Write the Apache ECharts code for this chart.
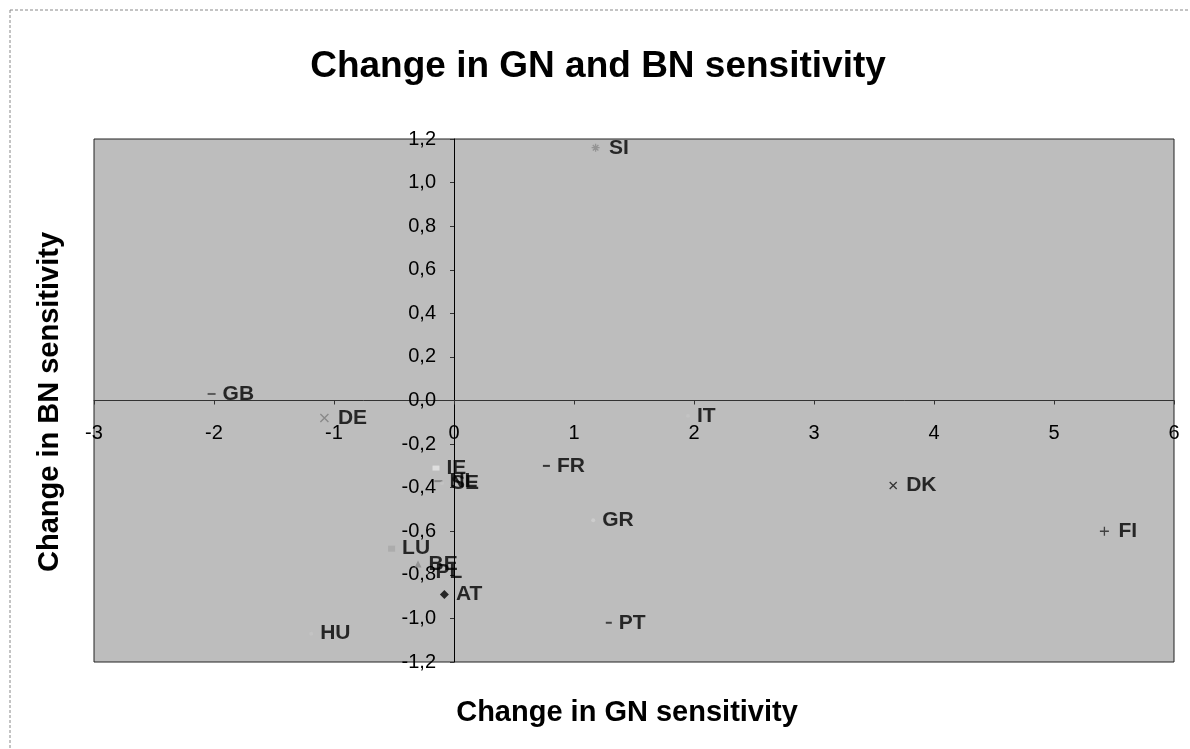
<!DOCTYPE html>
<html>
<head>
<meta charset="utf-8">
<script src="https://cdn.jsdelivr.net/npm/echarts@6/dist/echarts.min.js"></script>
<style>
  html, body { margin: 0; padding: 0; background: #fff; }
  #chart { width: 1190px; height: 749px; }
</style>
</head>
<body>
<div id="chart"></div>
<script>
// country codes and their changes
const countries = ['AT', 'BE', 'DE', 'DK', 'FI', 'FR', 'GB', 'GR', 'HU', 'IE', 'IT', 'LU', 'NL', 'PL', 'PT', 'SE', 'SI'];
const gnChange = [-0.08, -0.30, -1.08, 3.66, 5.42, 0.77, -2.02, 1.16, -1.19, -0.15, 1.95, -0.52, -0.13, -0.23, 1.29, -0.10, 1.18];
const bnChange = [-0.89, -0.75, -0.08, -0.39, -0.60, -0.30, 0.03, -0.55, -1.07, -0.31, -0.07, -0.68, -0.37, -0.79, -1.02, -0.38, 1.16];

const xTicks = { min: -3, max: 6, step: 1 };
const yTicks = { min: -1.2, max: 1.2, step: 0.2 };

// marker look per country (Excel default series markers)
const P_X = 'path://M0,0L10,10M10,0L0,10';
const P_PLUS = 'path://M5,0L5,10M0,5L10,5';
const P_STAR = 'path://M5,0L5,10M0,5L10,5M1.5,1.5L8.5,8.5M8.5,1.5L1.5,8.5';
const markerStyle = {
  AT: { symbol: 'diamond', size: 9, fill: '#000' },
  BE: { symbol: 'triangle', size: 7, fill: '#8a8a8a' },
  DE: { symbol: P_X, size: 8, stroke: '#7a7a7a' },
  DK: { symbol: P_X, size: 7, stroke: '#111' },
  FI: { symbol: P_PLUS, size: 9, stroke: '#222' },
  FR: { symbol: 'rect', size: [7, 2], fill: '#111' },
  GB: { symbol: 'rect', size: [8, 2], fill: '#444' },
  GR: { symbol: 'circle', size: 4, fill: '#cfcfcf' },
  HU: { symbol: 'circle', size: 4, fill: '#c4c4c4' },
  IE: { symbol: 'rect', size: [7, 5], fill: '#e6e6e6' },
  IT: { symbol: 'circle', size: 4, fill: '#c4c4c4' },
  LU: { symbol: 'rect', size: [7, 6], fill: '#a8a8a8' },
  NL: { symbol: 'rect', size: [8, 2], fill: '#777' },
  PL: { symbol: 'circle', size: 4, fill: '#c4c4c4' },
  PT: { symbol: 'rect', size: [6, 2], fill: '#222' },
  SE: { symbol: 'circle', size: 4, fill: '#c4c4c4' },
  SI: { symbol: P_STAR, size: 8, stroke: '#8a8a8a' }
};

const FONT = 'Liberation Sans, Arial, sans-serif';
const fmtComma = v => (Math.round(v * 10) / 10).toFixed(1).replace('.', ',');

// plot area, and where the zero lines sit inside it
const W = 1190, H = 749;
const gridBox = { left: 94, right: 16, top: 139, bottom: 87 };
const plotW = W - gridBox.left - gridBox.right;
const plotH = H - gridBox.top - gridBox.bottom;
const yAxisShift = -plotW * (0 - xTicks.min) / (xTicks.max - xTicks.min);
const xAxisShift = -plotH * (0 - yTicks.min) / (yTicks.max - yTicks.min);

const series = countries.map((c, i) => {
  const m = markerStyle[c];
  return {
    name: c,
    type: 'scatter',
    symbol: m.symbol,
    symbolSize: m.size,
    itemStyle: m.stroke
      ? { color: 'none', borderColor: m.stroke, borderWidth: 1.3 }
      : { color: m.fill },
    label: {
      show: true,
      position: 'right',
      distance: 7,
      formatter: c,
      color: '#000',
      fontSize: 21,
      fontWeight: 'bold',
      fontFamily: FONT
    },
    emphasis: { disabled: true },
    data: [[gnChange[i], bnChange[i]]]
  };
});

const chart = echarts.init(document.getElementById('chart'));
chart.setOption({
  backgroundColor: '#fff',
  animation: false,
  textStyle: { fontFamily: FONT },
  title: {
    text: 'Change in GN and BN sensitivity',
    left: 593,
    top: 43,
    textAlign: 'center',
    textStyle: { fontSize: 37, fontWeight: 'bold', color: '#000', fontFamily: FONT }
  },
  grid: {
    left: gridBox.left, right: gridBox.right, top: gridBox.top, bottom: gridBox.bottom,
    show: true,
    backgroundColor: '#bdbdbd',
    borderColor: '#222',
    borderWidth: 1
  },
  xAxis: {
    type: 'value',
    min: xTicks.min, max: xTicks.max, interval: xTicks.step,
    offset: xAxisShift,
    axisLine: { onZero: false, lineStyle: { color: '#333', width: 1 } },
    axisTick: { show: true, length: 4, lineStyle: { color: '#333' } },
    axisLabel: { color: '#000', fontSize: 20, margin: 23, fontFamily: FONT },
    splitLine: { show: false }
  },
  yAxis: {
    type: 'value',
    min: yTicks.min, max: yTicks.max, interval: yTicks.step,
    offset: yAxisShift,
    axisLine: { onZero: false, lineStyle: { color: '#000', width: 1 } },
    axisTick: { show: true, length: 4, lineStyle: { color: '#333' } },
    axisLabel: { color: '#000', fontSize: 20, margin: 18, formatter: fmtComma, fontFamily: FONT },
    splitLine: { show: false }
  },
  graphic: [
    { type: 'line', shape: { x1: 10, y1: 10, x2: 1190, y2: 10 },
      style: { stroke: '#888', lineWidth: 1, lineDash: [3, 2] } },
    { type: 'line', shape: { x1: 10, y1: 10, x2: 10, y2: 749 },
      style: { stroke: '#888', lineWidth: 1, lineDash: [3, 2] } },
    { type: 'text', x: 627, y: 713,
      style: { text: 'Change in GN sensitivity', fontSize: 29, fontWeight: 'bold', fill: '#000',
               align: 'center', verticalAlign: 'middle', fontFamily: FONT } },
    { type: 'text', x: 50, y: 402, rotation: Math.PI / 2,
      style: { text: 'Change in BN sensitivity', fontSize: 29, fontWeight: 'bold', fill: '#000',
               align: 'center', verticalAlign: 'middle', fontFamily: FONT } }
  ],
  series: series
});
</script>
</body>
</html>
